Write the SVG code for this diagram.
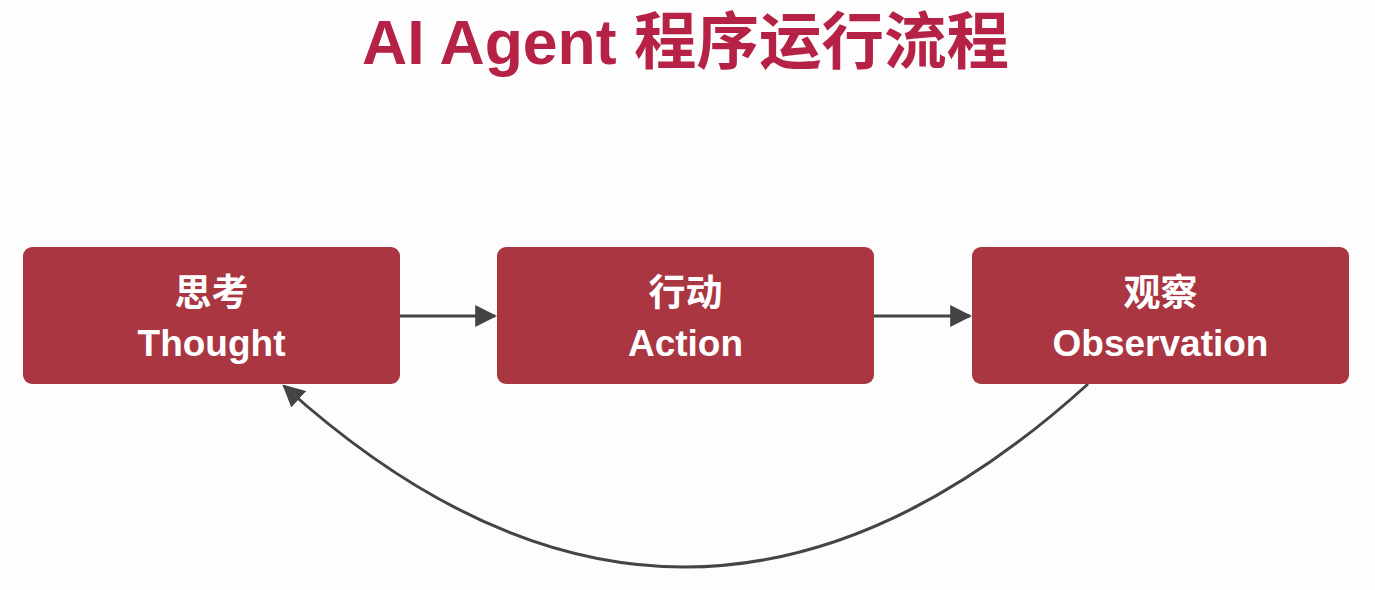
<svg xmlns="http://www.w3.org/2000/svg" width="1375" height="590" viewBox="0 0 1375 590">
<style>
.title{font-family:"Liberation Sans","Noto Sans CJK SC",sans-serif;font-weight:bold;font-size:62.5px;fill:#B52245}
.box{fill:#A93641}
.zh{font-family:"Noto Sans CJK SC",sans-serif;font-weight:bold;font-size:37px;fill:#ffffff;text-anchor:middle}
.en{font-family:"Liberation Sans","Noto Sans CJK SC",sans-serif;font-weight:bold;font-size:37px;fill:#ffffff;text-anchor:middle}
.conn{fill:none;stroke:#444444;stroke-width:3}
</style>
<defs>
<marker id="arr" markerUnits="userSpaceOnUse" markerWidth="22" markerHeight="22" viewBox="0 0 20 20" refX="18" refY="10" orient="auto">
<path d="M0,0 L20,10 L0,20 z" fill="#444444"/>
</marker>
</defs>
<rect width="1375" height="590" fill="#fdfdfd"/>
<text class="title" x="362" y="64">AI Agent 程序运行流程</text>
<g id="node-thought">
<rect class="box" x="23" y="247" width="377" height="137" rx="9"/>
<text class="zh" x="211.5" y="306">思考</text>
<text class="en" x="211.5" y="356">Thought</text>
</g>
<g id="node-action">
<rect class="box" x="497" y="247" width="377" height="137" rx="9"/>
<text class="zh" x="685.5" y="306">行动</text>
<text class="en" x="685.5" y="356">Action</text>
</g>
<g id="node-observation">
<rect class="box" x="972" y="247" width="377" height="137" rx="9"/>
<text class="zh" x="1160.5" y="306">观察</text>
<text class="en" x="1160.5" y="356">Observation</text>
</g>
<g id="connectors">
<path class="conn" d="M400,316 L495,316" marker-end="url(#arr)"/>
<path class="conn" d="M874,316 L970,316" marker-end="url(#arr)"/>
<path class="conn" d="M1088,384 Q685.5,749 284,386" marker-end="url(#arr)"/>
</g>
</svg>
